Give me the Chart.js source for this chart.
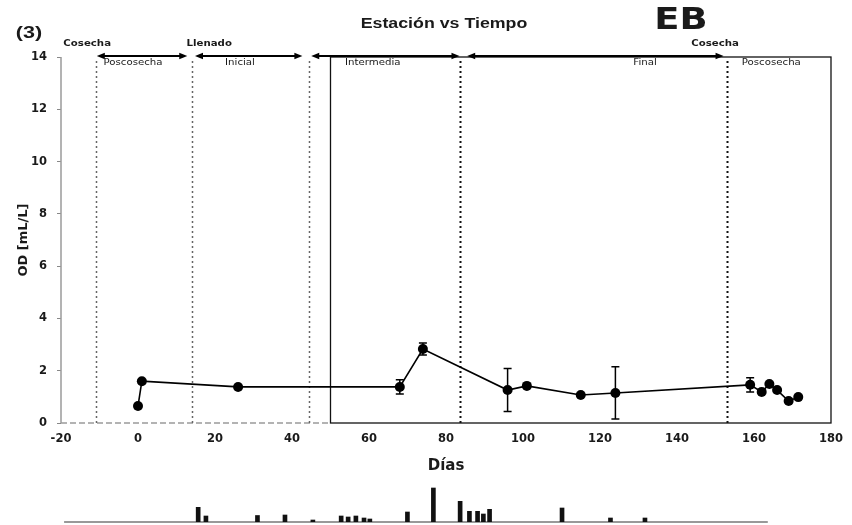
<!DOCTYPE html>
<html>
<head>
<meta charset="utf-8">
<title>Estación vs Tiempo</title>
<script src="https://cdn.jsdelivr.net/npm/chart.js@4/dist/chart.umd.min.js"></script>
<style>
  html, body { margin: 0; padding: 0; background: #fff; }
  #wrap { position: relative; width: 852px; height: 525px; overflow: hidden; }
  #chart { position: absolute; left: 0; top: 0; }
  #strip { position: absolute; left: 0; top: 480px; }
</style>
</head>
<body>
<div id="wrap">
  <canvas id="chart" width="852" height="525"></canvas>
  <canvas id="strip" width="852" height="45"></canvas>
</div>
<script>
// OD medido por día de muestreo (media y desviación)
const days  = [0, 1, 26, 68, 74, 96, 101, 115, 124, 159, 162, 164, 166, 169, 171.5];
const od    = [0.65, 1.6, 1.38, 1.38, 2.83, 1.26, 1.42, 1.07, 1.15, 1.46, 1.19, 1.49, 1.26, 0.84, 0.99];
const odErr = [0, 0, 0, 0.27, 0.23, 0.82, 0, 0, 1.0, 0.27, 0, 0, 0, 0, 0];

// límites de estación (días) y tramos con flecha
const phaseLines = [-11, 14, 44.3, 83.7, 153];
const boxStart   = 50;
const phaseSpans = [[-10.7, 12.8], [14.8, 42.7], [45, 83.5], [85.5, 152.1]];
const phaseNames = ['Poscosecha', 'Inicial', 'Intermedia', 'Final', 'Poscosecha'];
const phaseNameX = [-1.3, 26.5, 61, 131.7, 164.5];
const eventNames = ['Cosecha', 'Llenado', 'Cosecha'];
const eventX     = [-13.2, 18.5, 149.9];

const xTicks = { min: -20, max: 180, step: 20 };
const yTicks = { min: 0, max: 14, step: 2 };

// tira inferior
const stripDays    = [15.4, 17.4, 30.7, 37.8, 45.0, 52.3, 54.1, 56.1, 58.2, 59.7, 69.4, 76.1, 83.0, 85.4, 87.5, 89.0, 90.6, 109.3, 121.8, 130.7];
const stripHeights = [14.7, 6, 6.5, 7, 2, 6, 5, 6, 4, 3, 10, 34, 20.7, 10.7, 10.7, 8, 12.7, 14, 4, 4];
const stripBase    = [-19.2, 162.4];

const TICK_FONT = { family: 'DejaVu Sans', size: 11.5, weight: 'bold' };
const ARIAL = '"Liberation Sans", Arial, sans-serif';
const DEJAVU = '"DejaVu Sans", sans-serif';

function wideText(ctx, text, x, y, font, sx) {
  ctx.save();
  ctx.font = font;
  ctx.fillStyle = '#1a1a1a';
  ctx.textAlign = 'center';
  ctx.textBaseline = 'middle';
  ctx.translate(x, y);
  ctx.scale(sx, 1);
  ctx.fillText(text, 0, 0);
  ctx.restore();
}

function arrowHead(ctx, x, y, dir) {
  ctx.beginPath();
  ctx.moveTo(x, y);
  ctx.lineTo(x - dir * 8, y - 3.2);
  ctx.lineTo(x - dir * 8, y + 3.2);
  ctx.closePath();
  ctx.fill();
}

const framePlugin = {
  id: 'frame',
  beforeDatasetsDraw(chart) {
    const { ctx, scales: { x, y } } = chart;
    const top = y.getPixelForValue(14), bot = y.getPixelForValue(0);
    ctx.save();
    // eje izquierdo y base hasta el recuadro
    ctx.strokeStyle = '#9a9a9a';
    ctx.lineWidth = 1.5;
    ctx.beginPath();
    ctx.moveTo(x.left, top); ctx.lineTo(x.left, bot);
    ctx.stroke();
    ctx.setLineDash([6, 3]);
    ctx.beginPath();
    ctx.moveTo(x.left, bot); ctx.lineTo(x.getPixelForValue(boxStart), bot);
    ctx.stroke();
    ctx.setLineDash([]);
    // recuadro del área de trazado
    ctx.strokeStyle = '#111';
    ctx.lineWidth = 1.3;
    const bx = x.getPixelForValue(boxStart), ex = x.getPixelForValue(180);
    ctx.strokeRect(bx, top, ex - bx, bot - top);
    // líneas punteadas de estación
    phaseLines.forEach((d, i) => {
      const px = Math.round(x.getPixelForValue(d)) + 0.5;
      ctx.strokeStyle = i < 3 ? '#666' : '#111';
      ctx.lineWidth = i < 3 ? 1.5 : 2;
      ctx.setLineDash([2, 3]);
      ctx.beginPath();
      ctx.moveTo(px, top + 4); ctx.lineTo(px, bot);
      ctx.stroke();
    });
    ctx.setLineDash([]);
    // barras de error
    ctx.strokeStyle = '#000';
    ctx.lineWidth = 1.5;
    days.forEach((d, i) => {
      if (!odErr[i]) return;
      const px = x.getPixelForValue(d);
      const y1 = y.getPixelForValue(od[i] + odErr[i]);
      const y2 = y.getPixelForValue(od[i] - odErr[i]);
      ctx.beginPath();
      ctx.moveTo(px, y1); ctx.lineTo(px, y2);
      ctx.moveTo(px - 4, y1); ctx.lineTo(px + 4, y1);
      ctx.moveTo(px - 4, y2); ctx.lineTo(px + 4, y2);
      ctx.stroke();
    });
    ctx.restore();
  },
  afterDraw(chart) {
    const { ctx, scales: { x, y } } = chart;
    const top = y.getPixelForValue(14);
    const ay = top - 1;
    ctx.save();
    ctx.strokeStyle = '#000';
    ctx.fillStyle = '#000';
    ctx.lineWidth = 1.8;
    phaseSpans.forEach(([a, b]) => {
      const x1 = x.getPixelForValue(a), x2 = x.getPixelForValue(b);
      ctx.beginPath();
      ctx.moveTo(x1 + 4, ay); ctx.lineTo(x2 - 4, ay);
      ctx.stroke();
      arrowHead(ctx, x1, ay, -1);
      arrowHead(ctx, x2, ay, 1);
    });
    ctx.restore();
    phaseNames.forEach((t, i) => wideText(ctx, t, x.getPixelForValue(phaseNameX[i]), top + 6, `8.5px ${DEJAVU}`, 1.2));
    eventNames.forEach((t, i) => wideText(ctx, t, x.getPixelForValue(eventX[i]), top - 13, `bold 8.5px ${DEJAVU}`, 1.2));
    wideText(ctx, '(3)', 29, 33, `bold 17px ${ARIAL}`, 1.27);
    wideText(ctx, 'Estación vs Tiempo', 444, 24, `bold 14px ${ARIAL}`, 1.27);
    wideText(ctx, 'EB', 681, 21, `bold 30px ${DEJAVU}`, 1.23);
  }
};

new Chart(document.getElementById('chart'), {
  type: 'line',
  data: {
    datasets: [{
      data: days.map((d, i) => ({ x: d, y: od[i] })),
      borderColor: '#000',
      borderWidth: 1.6,
      pointRadius: 5,
      pointBackgroundColor: '#000',
      pointBorderWidth: 0,
      tension: 0
    }]
  },
  options: {
    responsive: false,
    animation: false,
    layout: { padding: { top: 57, left: 0, right: 16, bottom: 50 } },
    plugins: { legend: { display: false }, tooltip: { enabled: false } },
    scales: {
      x: {
        type: 'linear', min: xTicks.min, max: xTicks.max,
        ticks: { stepSize: xTicks.step, font: TICK_FONT, color: '#1a1a1a', padding: 9, maxRotation: 0 },
        grid: { display: false, drawTicks: false },
        border: { display: false },
        title: { display: true, text: 'Días', color: '#1a1a1a', font: { family: 'DejaVu Sans', size: 15, weight: 'bold' }, padding: { top: 2, bottom: 0 } },
        afterFit: s => { s.height = 52; }
      },
      y: {
        min: yTicks.min, max: yTicks.max,
        ticks: { stepSize: yTicks.step, font: TICK_FONT, color: '#1a1a1a', padding: 10 },
        grid: { drawOnChartArea: false, tickLength: 4, color: '#888' },
        border: { display: false },
        title: { display: true, text: 'OD [mL/L]', color: '#1a1a1a', font: { family: 'DejaVu Sans', size: 13, weight: 'bold' }, padding: { top: 16, bottom: 0 } },
        afterFit: s => { s.width = 61; }
      }
    }
  },
  plugins: [framePlugin]
});

new Chart(document.getElementById('strip'), {
  type: 'bar',
  data: {
    datasets: [{
      type: 'bar',
      data: stripDays.map((d, i) => ({ x: d, y: stripHeights[i] })),
      backgroundColor: '#111',
      barThickness: 4
    }, {
      type: 'line',
      data: stripBase.map(d => ({ x: d, y: 0 })),
      borderColor: '#777',
      borderWidth: 1.5,
      pointRadius: 0,
      clip: false
    }]
  },
  options: {
    responsive: false,
    animation: false,
    layout: { padding: { top: 5, left: 61, right: 16, bottom: 3 } },
    plugins: { legend: { display: false }, tooltip: { enabled: false } },
    scales: {
      x: { type: 'linear', min: -20, max: 180, offset: false, display: false },
      y: { min: 0, max: 37, display: false }
    }
  }
});
</script>
</body>
</html>
